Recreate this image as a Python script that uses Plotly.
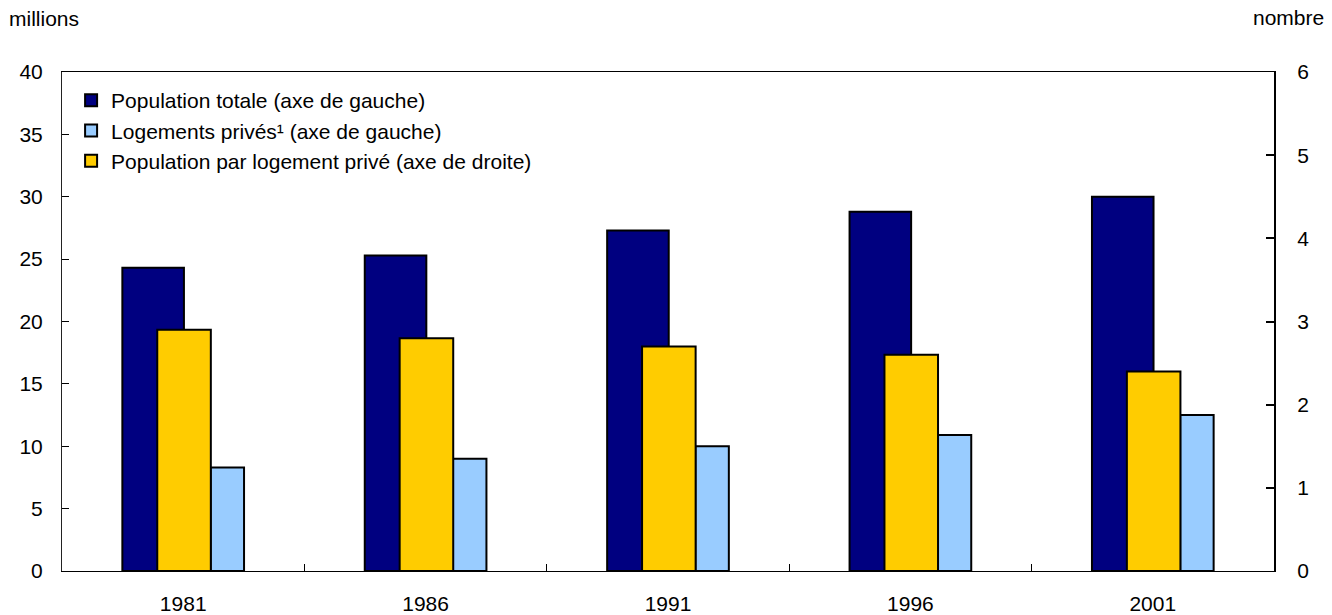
import plotly.graph_objects as go

years = ["1981", "1986", "1991", "1996", "2001"]
population_totale = [24.3, 25.3, 27.3, 28.8, 30.0]
logements_prives = [8.3, 9.0, 10.0, 10.9, 12.5]
pop_par_logement = [2.9, 2.8, 2.7, 2.6, 2.4]

FONT = "Liberation Sans, Arial, Helvetica, sans-serif"
FS = 21

fig = go.Figure()
fig.add_trace(go.Bar(
    x=years, y=population_totale, name="Population totale (axe de gauche)",
    marker=dict(color="#000080", line=dict(color="black", width=2)),
    offset=-0.251, width=0.254, yaxis="y", xaxis="x",
))
fig.add_trace(go.Bar(
    x=years, y=logements_prives, name="Logements privés¹ (axe de gauche)",
    marker=dict(color="#99CCFF", line=dict(color="black", width=2)),
    offset=0.113, width=0.138, yaxis="y", xaxis="x",
))
fig.add_trace(go.Bar(
    x=years, y=pop_par_logement, name="Population par logement privé (axe de droite)",
    marker=dict(color="#FFCC00", line=dict(color="black", width=2)),
    offset=-0.107, width=0.221, yaxis="y2", xaxis="x",
))

fig.update_layout(
    width=1332, height=615,
    margin=dict(l=62, r=58, t=72, b=44, pad=0, autoexpand=False),
    paper_bgcolor="white", plot_bgcolor="white",
    barmode="overlay",
    font=dict(family=FONT, size=FS, color="black"),
    showlegend=True,
    legend=dict(
        x=0.0075, y=0.984, xanchor="left", yanchor="top",
        bgcolor="rgba(0,0,0,0)", borderwidth=0,
        font=dict(family=FONT, size=FS, color="black"),
        traceorder="normal", itemsizing="constant",
    ),
    xaxis=dict(
        type="category", showgrid=False, showline=True, linecolor="black", linewidth=1,
        mirror=True, ticks="inside", ticklen=7, tickcolor="black", tickson="boundaries",
        tickfont=dict(family=FONT, size=FS, color="black"), ticklabelstandoff=14,
        automargin=False,
    ),
    yaxis=dict(
        range=[0, 40], dtick=5, showgrid=False, showline=True, linecolor="#222222", linewidth=1,
        ticks="inside", ticklen=7, tickcolor="black", zeroline=False,
        tickfont=dict(family=FONT, size=FS, color="black"), ticklabelstandoff=14,
        automargin=False,
    ),
    yaxis2=dict(
        range=[0, 6], dtick=1, overlaying="y", side="right", showgrid=False,
        showline=True, linecolor="black", linewidth=2, ticks="inside", ticklen=8,
        tickcolor="black", tickwidth=2, zeroline=False,
        tickfont=dict(family=FONT, size=FS, color="black"), ticklabelstandoff=17,
        automargin=False,
    ),
    annotations=[
        dict(text="millions", xref="paper", yref="paper", x=-62/1212, y=1 + 54/499,
             xanchor="left", yanchor="middle", showarrow=False,
             font=dict(family=FONT, size=FS, color="black"), xshift=7),
        dict(text="nombre", xref="paper", yref="paper", x=1 + 58/1212, y=1 + 55/499,
             xanchor="right", yanchor="middle", showarrow=False,
             font=dict(family=FONT, size=FS, color="black"), xshift=-6),
    ],
)

fig.write_html("out.html", config={"displayModeBar": False},
               post_script="document.body.style.margin='0';")
